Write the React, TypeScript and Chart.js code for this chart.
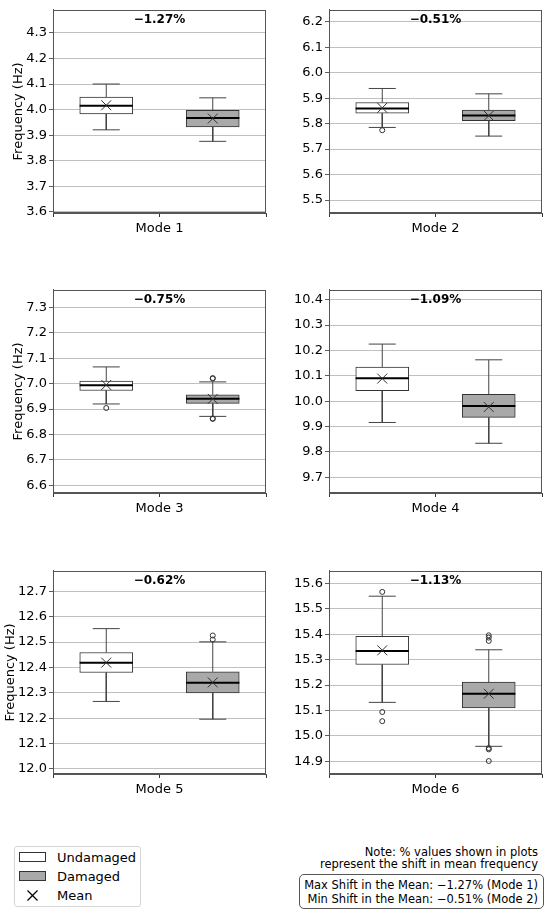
import { useEffect, useRef } from 'react';
import { Chart, registerables } from 'chart.js';

Chart.register(...registerables);
Chart.defaults.font.family = '"DejaVu Sans", sans-serif';
Chart.defaults.color = '#000';

// mode names and shift in mean (%)
const MODES = ['Mode 1', 'Mode 2', 'Mode 3', 'Mode 4', 'Mode 5', 'Mode 6'];
const SHIFT_PCT = [-1.27, -0.51, -0.75, -1.09, -0.62, -1.13];

// y-axis limits and ticks per mode
const Y_MIN = [3.596, 5.449, 6.569, 9.638, 11.98, 14.85];
const Y_MAX = [4.39, 6.247, 7.37, 10.439, 12.781, 15.65];
const Y_TICKS = [
  [3.6, 3.7, 3.8, 3.9, 4.0, 4.1, 4.2, 4.3],
  [5.5, 5.6, 5.7, 5.8, 5.9, 6.0, 6.1, 6.2],
  [6.6, 6.7, 6.8, 6.9, 7.0, 7.1, 7.2, 7.3],
  [9.7, 9.8, 9.9, 10.0, 10.1, 10.2, 10.3, 10.4],
  [12.0, 12.1, 12.2, 12.3, 12.4, 12.5, 12.6, 12.7],
  [14.9, 15.0, 15.1, 15.2, 15.3, 15.4, 15.5, 15.6],
];

// undamaged box stats (Hz)
const UND_LOW = [3.921, 5.785, 6.92, 9.916, 12.266, 15.132];
const UND_Q1 = [3.983, 5.841, 6.973, 10.041, 12.38, 15.281];
const UND_MED = [4.015, 5.859, 6.994, 10.09, 12.419, 15.334];
const UND_Q3 = [4.049, 5.883, 7.01, 10.134, 12.459, 15.392];
const UND_HIGH = [4.1, 5.938, 7.066, 10.225, 12.553, 15.55];
const UND_MEAN = [4.017, 5.862, 6.995, 10.089, 12.419, 15.337];
const UND_OUT = [[], [5.774], [6.904], [], [], [15.567, 15.094, 15.058]];

// damaged box stats (Hz)
const DMG_LOW = [3.876, 5.751, 6.871, 9.834, 12.196, 14.959];
const DMG_Q1 = [3.932, 5.812, 6.922, 9.936, 12.3, 15.11];
const DMG_MED = [3.967, 5.832, 6.941, 9.981, 12.34, 15.166];
const DMG_Q3 = [3.997, 5.853, 6.956, 10.027, 12.383, 15.212];
const DMG_HIGH = [4.046, 5.917, 7.007, 10.163, 12.501, 15.339];
const DMG_MEAN = [3.965, 5.831, 6.94, 9.977, 12.341, 15.166];
const DMG_OUT = [
  [],
  [],
  [7.02, 7.022, 6.863, 6.861],
  [],
  [12.526, 12.51],
  [15.396, 15.387, 15.374, 14.952, 14.947, 14.901],
];

const UND_FILL = '#ffffff';
const DMG_FILL = '#a9a9a9';
const EDGE = '#333333';
const BOX_HALF = 0.25;
const CAP_HALF = 0.127;
const ROW_TOP = [0, 280, 561];
const YTITLE_PAD = [11, 11, 3];

const fmtPct = (v: number) => (v < 0 ? '\u2212' : '') + Math.abs(v).toFixed(2) + '%';

const whiskers = (x: number, low: number, q1: number, q3: number, high: number) => [
  { x, y: q3 }, { x, y: high }, { x, y: null },
  { x: x - CAP_HALF, y: high }, { x: x + CAP_HALF, y: high }, { x, y: null },
  { x, y: q1 }, { x, y: low }, { x, y: null },
  { x: x - CAP_HALF, y: low }, { x: x + CAP_HALF, y: low },
];

const frameAndShift = {
  id: 'frameAndShift',
  afterDraw(chart: any, _args: any, opts: any) {
    const { ctx, chartArea: a } = chart;
    ctx.save();
    ctx.strokeStyle = '#555';
    ctx.lineWidth = 1;
    ctx.strokeRect(Math.round(a.left) + 0.5, Math.round(a.top) + 0.5, Math.round(a.width) - 1, Math.round(a.height) - 1);
    ctx.font = 'bold 12px "DejaVu Sans"';
    ctx.fillStyle = '#000';
    ctx.textAlign = 'center';
    ctx.textBaseline = 'middle';
    ctx.fillText(opts.text, (a.left + a.right) / 2, a.top + 10);
    ctx.restore();
  },
};

const ModePanel = ({ i }: { i: number }) => {
  const ref = useRef<HTMLCanvasElement | null>(null);
  const col = i % 2;
  const row = Math.floor(i / 2);

  useEffect(() => {
    if (!ref.current) return;

    const outliers = [
      ...UND_OUT[i].map((y) => ({ x: 1, y })),
      ...DMG_OUT[i].map((y) => ({ x: 2, y })),
    ];

    const chart = new Chart(ref.current, {
      type: 'scatter',
      data: {
        datasets: [
          {
            type: 'bar',
            data: [
              { x: 1, y: [UND_Q1[i], UND_Q3[i]] },
              { x: 2, y: [DMG_Q1[i], DMG_Q3[i]] },
            ],
            backgroundColor: [UND_FILL, DMG_FILL],
            borderColor: EDGE,
            borderWidth: 1,
            borderSkipped: false,
            barThickness: 53,
            order: 5,
          } as any,
          {
            data: [
              ...whiskers(1, UND_LOW[i], UND_Q1[i], UND_Q3[i], UND_HIGH[i]),
              { x: 1, y: null },
              ...whiskers(2, DMG_LOW[i], DMG_Q1[i], DMG_Q3[i], DMG_HIGH[i]),
            ],
            showLine: true,
            spanGaps: false,
            borderColor: '#444',
            borderWidth: 1,
            pointRadius: 0,
            order: 4,
          } as any,
          {
            data: [
              { x: 1 - BOX_HALF, y: UND_MED[i] }, { x: 1 + BOX_HALF, y: UND_MED[i] }, { x: 1, y: null },
              { x: 2 - BOX_HALF, y: DMG_MED[i] }, { x: 2 + BOX_HALF, y: DMG_MED[i] },
            ],
            showLine: true,
            spanGaps: false,
            borderColor: '#000',
            borderWidth: 2,
            pointRadius: 0,
            order: 3,
          } as any,
          {
            data: [{ x: 1, y: UND_MEAN[i] }, { x: 2, y: DMG_MEAN[i] }],
            pointStyle: 'crossRot',
            pointRadius: 7,
            borderColor: '#333',
            borderWidth: 1,
            order: 2,
          },
          {
            data: outliers,
            pointStyle: 'circle',
            pointRadius: 2.5,
            backgroundColor: 'rgba(0,0,0,0)',
            borderColor: '#333',
            borderWidth: 1,
            order: 1,
          },
        ],
      },
      options: {
        animation: false,
        responsive: false,
        layout: { padding: { top: 6, right: col === 0 ? 9 : 8, left: 0, bottom: 0 } },
        plugins: {
          legend: { display: false },
          tooltip: { enabled: false },
          frameAndShift: { text: fmtPct(SHIFT_PCT[i]) },
        } as any,
        scales: {
          x: {
            type: 'linear',
            min: 0.5,
            max: 2.5,
            offset: false,
            afterBuildTicks: (s: any) => {
              s.ticks = [{ value: 1 }, { value: 2 }];
            },
            afterFit: (s: any) => {
              s.height = 67;
            },
            ticks: { callback: () => '', padding: 0 },
            grid: { drawOnChartArea: false, drawTicks: true, tickLength: 4, tickColor: '#333' },
            border: { display: true, color: '#555' },
            title: {
              display: true,
              text: MODES[i],
              font: { size: 13 },
              color: '#000',
              padding: { top: 0, bottom: 44 },
            },
          },
          y: {
            type: 'linear',
            min: Y_MIN[i],
            max: Y_MAX[i],
            afterBuildTicks: (s: any) => {
              s.ticks = Y_TICKS[i].map((value) => ({ value }));
            },
            afterFit: (s: any) => {
              s.width = col === 0 ? 53 : 54;
            },
            ticks: {
              font: { size: 13 },
              color: '#000',
              padding: 2,
              callback: (v: any) => Number(v).toFixed(1),
            },
            grid: { color: '#b0b0b0', lineWidth: 0.8, drawTicks: true, tickLength: 4, tickColor: '#333' },
            border: { display: true, color: '#555' },
            title: {
              display: col === 0,
              text: 'Frequency (Hz)',
              font: { size: 13 },
              color: '#000',
              padding: { top: YTITLE_PAD[row], bottom: 0 },
            },
          },
        },
      },
      plugins: [frameAndShift],
    });

    return () => {
      chart.destroy();
    };
  }, [i, col, row]);

  return (
    <div style={{ position: 'absolute', left: col * 275, top: ROW_TOP[row], width: 275, height: 280 }}>
      <canvas ref={ref} width={275} height={280} style={{ display: 'block' }}></canvas>
    </div>
  );
};

const LEGEND_LABELS = ['Undamaged', 'Damaged', 'Mean'];

export default function App() {
  const rowTop = [1, 20, 39];
  return (
    <div
      style={{
        position: 'absolute',
        left: 0,
        top: 0,
        width: 550,
        height: 915,
        background: '#fff',
        fontFamily: '"DejaVu Sans", sans-serif',
        color: '#000',
      }}
    >
      {MODES.map((_, i) => (
        <ModePanel key={i} i={i} />
      ))}

      {/* legend */}
      <div
        style={{
          position: 'absolute',
          left: 14,
          top: 846,
          width: 127,
          height: 61,
          boxSizing: 'border-box',
          border: '1px solid #d6d6d6',
          borderRadius: 3,
        }}
      >
        {LEGEND_LABELS.map((label, k) => (
          <div key={label} style={{ position: 'absolute', left: 0, top: rowTop[k], height: 19, width: 125 }}>
            {k < 2 ? (
              <div
                style={{
                  position: 'absolute',
                  left: 4,
                  top: 4,
                  width: 27,
                  height: 10,
                  boxSizing: 'border-box',
                  border: '1px solid #333',
                  background: k === 0 ? UND_FILL : DMG_FILL,
                }}
              />
            ) : (
              <svg style={{ position: 'absolute', left: 12, top: 4 }} width={11} height={11}>
                <line x1={0.5} y1={0.5} x2={10.5} y2={10.5} stroke="#000" strokeWidth={1.2} />
                <line x1={10.5} y1={0.5} x2={0.5} y2={10.5} stroke="#000" strokeWidth={1.2} />
              </svg>
            )}
            <div style={{ position: 'absolute', left: 42, top: 0, lineHeight: '19px', fontSize: 13, whiteSpace: 'nowrap' }}>
              {label}
            </div>
          </div>
        ))}
      </div>

      {/* note */}
      <div style={{ position: 'absolute', right: 12, top: 845, fontSize: 11.5, lineHeight: '14px', textAlign: 'right', whiteSpace: 'nowrap' }}>
        Note: % values shown in plots
      </div>
      <div style={{ position: 'absolute', right: 12, top: 857, fontSize: 11.5, lineHeight: '14px', textAlign: 'right', whiteSpace: 'nowrap' }}>
        represent the shift in mean frequency
      </div>
      <div
        style={{
          position: 'absolute',
          left: 299,
          top: 874,
          width: 245,
          height: 35,
          boxSizing: 'border-box',
          border: '1px solid #555',
          borderRadius: 5,
          fontSize: 11.5,
          lineHeight: '14px',
          textAlign: 'right',
          paddingRight: 5,
          paddingTop: 3,
          whiteSpace: 'nowrap',
        }}
      >
        <div>Max Shift in the Mean: {fmtPct(SHIFT_PCT[0])} (Mode 1)</div>
        <div>Min Shift in the Mean: {fmtPct(SHIFT_PCT[1])} (Mode 2)</div>
      </div>
    </div>
  );
}
